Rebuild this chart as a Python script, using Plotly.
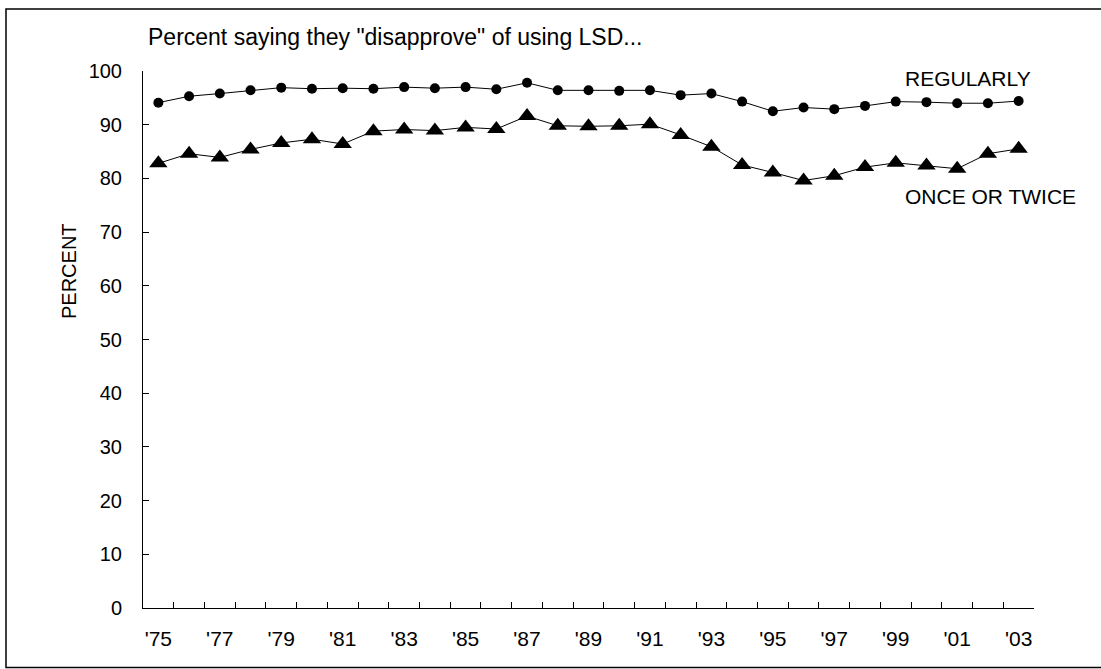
import plotly.graph_objects as go

years = ["'75","'76","'77","'78","'79","'80","'81","'82","'83","'84","'85","'86","'87","'88","'89",
         "'90","'91","'92","'93","'94","'95","'96","'97","'98","'99","'00","'01","'02","'03"]
regularly = [94.1,95.3,95.8,96.4,96.9,96.7,96.8,96.7,97.0,96.8,97.0,96.6,97.8,96.4,96.4,
             96.3,96.4,95.5,95.8,94.3,92.5,93.2,92.9,93.5,94.3,94.2,94.0,94.0,94.4]
once_twice = [82.8,84.6,83.9,85.4,86.6,87.3,86.4,88.8,89.1,88.9,89.5,89.2,91.6,89.8,89.7,
              89.8,90.1,88.1,85.9,82.5,81.1,79.6,80.5,82.1,82.9,82.4,81.8,84.6,85.5]
tick_text = [y if i % 2 == 0 else "" for i, y in enumerate(years)]
y_ticks = [0, 10, 20, 30, 40, 50, 60, 70, 80, 90, 100]

FONT = "Liberation Sans, Arial, sans-serif"
W, H = 1101, 669
L, R, T, B = 143, 1034, 71, 608
FS = 21


def px(x):
    return (x - L) / (R - L)


def py(y):
    return (B - y) / (B - T)


fig = go.Figure()
fig.add_trace(go.Scatter(x=years, y=once_twice, mode="lines+markers",
                         line=dict(color="black", width=1),
                         marker=dict(symbol="triangle-up", size=16, color="black"),
                         name="ONCE OR TWICE", showlegend=False))
fig.add_trace(go.Scatter(x=years, y=regularly, mode="lines+markers",
                         line=dict(color="black", width=1),
                         marker=dict(symbol="circle", size=10, color="black"),
                         name="REGULARLY", showlegend=False))

fig.update_layout(
    width=W, height=H,
    margin=dict(l=L, r=W - R, t=T, b=H - B, pad=0),
    paper_bgcolor="white", plot_bgcolor="white",
    font=dict(family=FONT, size=FS, color="black"),
    xaxis=dict(type="category", range=[-0.5, len(years) - 0.5],
               tickmode="array", tickvals=years, ticktext=tick_text,
               tickson="boundaries", ticks="inside", ticklen=6, tickcolor="black",
               ticklabelstandoff=12, tickangle=0,
               showline=True, linecolor="black", linewidth=1,
               showgrid=False, zeroline=False, tickfont=dict(size=FS)),
    yaxis=dict(range=[0, 100], tickmode="array", tickvals=y_ticks,
               ticks="inside", ticklen=6, tickcolor="black",
               ticklabelstandoff=16,
               showline=True, linecolor="black", linewidth=1,
               showgrid=False, zeroline=False, tickfont=dict(size=20)),
    shapes=[dict(type="rect", xref="paper", yref="paper",
                 x0=px(6), x1=px(1104), y0=py(667.5), y1=py(9),
                 line=dict(color="black", width=1.5), fillcolor="rgba(0,0,0,0)", layer="below")],
    annotations=[
        dict(text='Percent saying they "disapprove" of using LSD...', xref="paper", yref="paper",
             x=px(146), y=py(36.5), xanchor="left", yanchor="middle",
             showarrow=False, font=dict(size=23)),
        dict(text="PERCENT", xref="paper", yref="paper",
             x=px(68.5), y=py(271.5), xanchor="center", yanchor="middle",
             textangle=-90, showarrow=False, font=dict(size=20)),
        dict(text="REGULARLY", xref="paper", yref="paper",
             x=px(1033), y=py(79), xanchor="right", yanchor="middle",
             showarrow=False, font=dict(size=21)),
        dict(text="ONCE OR TWICE", xref="paper", yref="paper",
             x=px(1078), y=py(196.5), xanchor="right", yanchor="middle",
             showarrow=False, font=dict(size=21)),
    ],
)
fig.write_html("out.html", config={"displayModeBar": False},
               post_script="document.body.style.margin='0';document.body.style.overflow='hidden';")
